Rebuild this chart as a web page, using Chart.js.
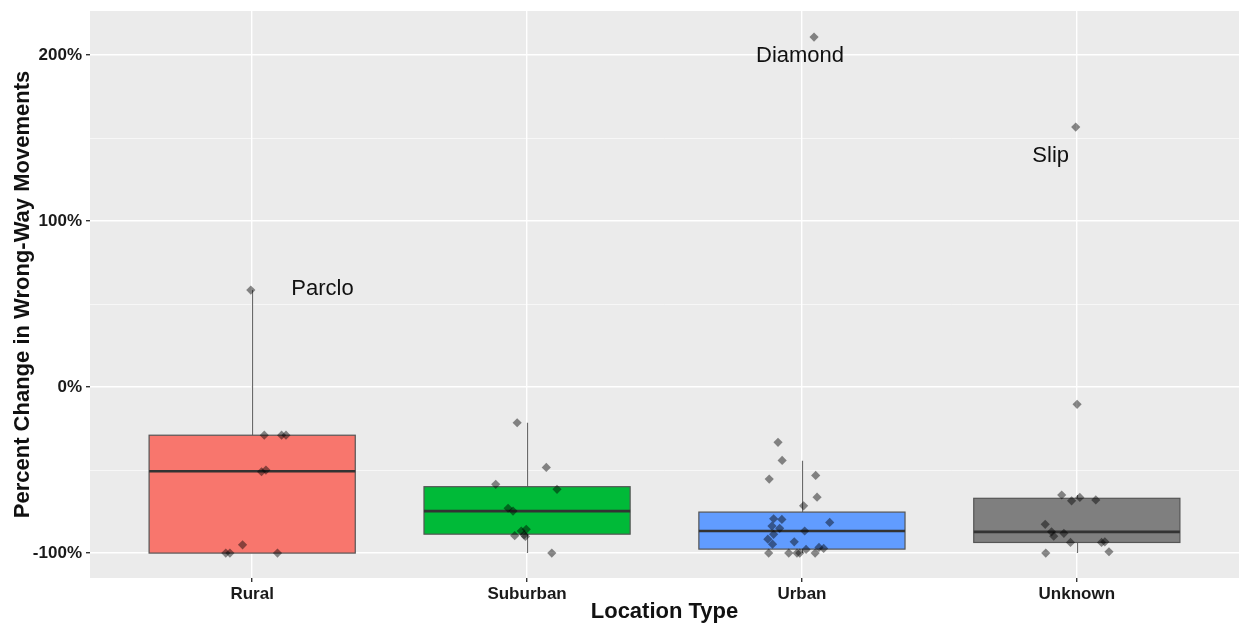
<!DOCTYPE html>
<html>
<head>
<meta charset="utf-8">
<script src="https://cdn.jsdelivr.net/npm/chart.js@4.4.1/dist/chart.umd.min.js"></script>
<style>
  html, body { margin: 0; padding: 0; background: #ffffff; overflow: hidden; }
  #wrap { width: 1239px; height: 623px; }
  canvas { display: block; }
</style>
</head>
<body>
<div id="wrap"><canvas id="boxChart"></canvas></div>
<script>
// categories and box statistics (percent change)
const categories = ['Rural', 'Suburban', 'Urban', 'Unknown'];
const boxQ1 = [-100, -88.6, -97.6, -93.6];
const boxMedian = [-50.7, -74.7, -86.7, -87.2];
const boxQ3 = [-29, -60, -75.3, -67];
const whiskerLow = [-100, -100, -100, -100];
const whiskerHigh = [58.4, -21.5, -44.4, -65];
const boxColors = ['#F8766D', '#00BA38', '#619CFF', '#7F7F7F'];

// jittered observations: category index, horizontal jitter, value
const ruralJitter = [-0.005, 0.044, 0.107, 0.123, 0.034, 0.05, -0.035, -0.096, -0.081, 0.092];
const ruralValues = [58.4, -29, -29, -29, -51, -50, -95, -100, -100, -100];
const suburbanJitter = [-0.036, 0.07, -0.114, 0.109, -0.069, -0.051, -0.003, -0.021, -0.011, -0.045, -0.006, 0.09];
const suburbanValues = [-21.5, -48.4, -58.6, -61.6, -73, -74.7, -85.7, -86.7, -89, -89.5, -90, -100];
const urbanJitter = [-0.087, -0.072, -0.119, 0.05, 0.055, 0.006, -0.103, -0.073, 0.101, -0.109, -0.081, 0.01,
                     -0.103, -0.124, -0.107, -0.028, 0.062, 0.079, 0.015, -0.121, -0.048, -0.018, -0.008, 0.048, 0.044];
const urbanValues = [-33.3, -44.2, -55.4, -53.2, -66.3, -71.5, -79.3, -79.7, -81.5, -83.7, -85.1, -86.7,
                     -88.7, -91.6, -94.6, -93.2, -96.6, -97.2, -97.8, -100, -100, -100, -100, -100, 210.8];
const unknownJitter = [0.001, -0.004, -0.055, -0.019, 0.011, 0.069, -0.115, -0.092, -0.084, -0.047, -0.023, 0.09, 0.102, -0.113, 0.117];
const unknownValues = [-10.4, 156.6, -65, -68.5, -66.5, -68, -82.7, -87.2, -89.8, -88.1, -93.6, -93.6, -93.2, -100, -99.2];

// text annotations
const noteText = ['Parclo', 'Diamond', 'Slip'];
const noteX = [0.256, 1.993, 2.905];
const noteY = [59, 199.4, 139];

const yTicks = [-100, -50, 0, 50, 100, 150, 200];
const FONT = '"Liberation Sans", Arial, sans-serif';

const jitterSets = [
    [ruralJitter, ruralValues],
    [suburbanJitter, suburbanValues],
    [urbanJitter, urbanValues],
    [unknownJitter, unknownValues]
];
const points = [];
jitterSets.forEach(([jit, vals], i) => {
    vals.forEach((v, k) => points.push({ x: i + jit[k], y: v }));
});

const panelBg = {
    id: 'panelBg',
    beforeDraw(chart) {
        const { ctx, chartArea: a } = chart;
        ctx.save();
        ctx.fillStyle = '#EBEBEB';
        ctx.fillRect(a.left, a.top, a.right - a.left, a.bottom - a.top);
        ctx.restore();
    }
};

const boxes = {
    id: 'boxes',
    beforeDatasetsDraw(chart) {
        const { ctx, scales: { x, y } } = chart;
        ctx.save();
        categories.forEach((c, i) => {
            const xc = Math.round(x.getPixelForValue(i)) + 0.5;
            const xl = x.getPixelForValue(i - 0.375);
            const xr = x.getPixelForValue(i + 0.375);
            const top = y.getPixelForValue(boxQ3[i]);
            const bot = y.getPixelForValue(boxQ1[i]);
            // whiskers
            ctx.strokeStyle = '#6a6a6a';
            ctx.lineWidth = 1.2;
            ctx.beginPath();
            ctx.moveTo(xc, top);
            ctx.lineTo(xc, y.getPixelForValue(whiskerHigh[i]));
            ctx.moveTo(xc, bot);
            ctx.lineTo(xc, y.getPixelForValue(whiskerLow[i]));
            ctx.stroke();
            // box
            ctx.fillStyle = boxColors[i];
            ctx.fillRect(xl, top, xr - xl, bot - top);
            ctx.strokeStyle = '#555555';
            ctx.lineWidth = 1.2;
            ctx.strokeRect(xl, top, xr - xl, bot - top);
            // median
            const ym = y.getPixelForValue(boxMedian[i]);
            ctx.strokeStyle = '#333333';
            ctx.lineWidth = 2.6;
            ctx.beginPath();
            ctx.moveTo(xl, ym);
            ctx.lineTo(xr, ym);
            ctx.stroke();
        });
        ctx.restore();
    },
    afterDatasetsDraw(chart) {
        const { ctx, scales: { x, y } } = chart;
        ctx.save();
        ctx.font = '22px ' + FONT;
        ctx.fillStyle = '#111111';
        ctx.textAlign = 'center';
        ctx.textBaseline = 'middle';
        noteText.forEach((t, i) => {
            ctx.fillText(t, x.getPixelForValue(noteX[i]), y.getPixelForValue(noteY[i]));
        });
        ctx.restore();
    }
};

new Chart(document.getElementById('boxChart'), {
    type: 'scatter',
    data: {
        datasets: [{
            data: points,
            pointStyle: 'rectRot',
            radius: 4.6,
            hoverRadius: 4.6,
            borderWidth: 0,
            backgroundColor: 'rgba(0, 0, 0, 0.45)'
        }]
    },
    options: {
        responsive: true,
        maintainAspectRatio: false,
        animation: false,
        events: [],
        layout: { autoPadding: false, padding: { top: 11, right: 0, left: 0, bottom: 0 } },
        plugins: {
            legend: { display: false },
            tooltip: { enabled: false }
        },
        scales: {
            x: {
                type: 'linear',
                min: -0.59,
                max: 3.59,
                afterBuildTicks: s => { s.ticks = categories.map((c, i) => ({ value: i })); },
                afterFit: s => { s.height = 45; s.paddingLeft = 0; s.paddingRight = 0; },
                border: { display: false },
                grid: { color: '#ffffff', lineWidth: 1.4, tickColor: '#333333', tickLength: 4 },
                ticks: {
                    callback: v => categories[v] ?? '',
                    color: '#1a1a1a',
                    font: { family: FONT, size: 17, weight: 'bold' },
                    padding: 2,
                    maxRotation: 0
                },
                title: {
                    display: true,
                    text: 'Location Type',
                    color: '#111111',
                    font: { family: FONT, size: 22, weight: 'bold', lineHeight: 1 },
                    padding: { top: 0, bottom: 0 }
                }
            },
            y: {
                min: -115,
                max: 226.5,
                afterBuildTicks: s => { s.ticks = yTicks.map(v => ({ value: v })); },
                afterFit: s => { s.width = 90; s.paddingTop = 0; s.paddingBottom = 0; },
                border: { display: false },
                grid: {
                    color: '#ffffff',
                    lineWidth: c => (c.tick && c.tick.value % 100 === 0) ? 1.4 : 0.6,
                    tickColor: c => (c.tick && c.tick.value % 100 === 0) ? '#333333' : 'rgba(0,0,0,0)',
                    tickLength: 4
                },
                ticks: {
                    callback: v => (v % 100 === 0) ? v + '%' : '',
                    color: '#1a1a1a',
                    font: { family: FONT, size: 17, weight: 'bold' },
                    padding: 4
                },
                title: {
                    display: true,
                    text: 'Percent Change in Wrong-Way Movements',
                    color: '#111111',
                    font: { family: FONT, size: 22, weight: 'bold', lineHeight: 1.2 },
                    padding: { top: 10, bottom: 0 }
                }
            }
        }
    },
    plugins: [panelBg, boxes]
});
</script>
</body>
</html>
